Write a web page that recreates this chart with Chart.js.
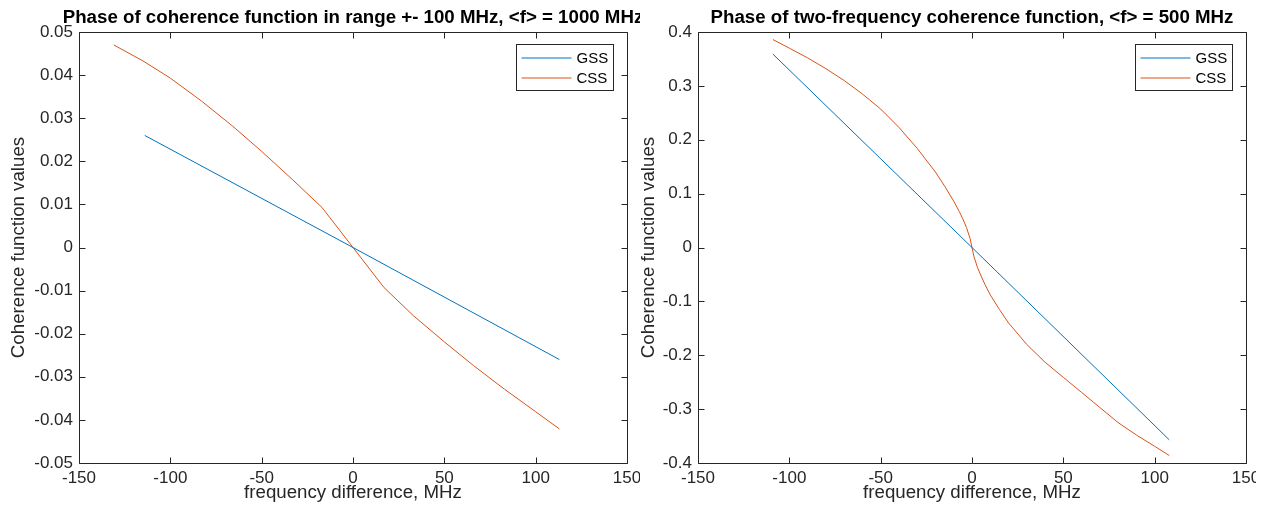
<!DOCTYPE html>
<html>
<head>
<meta charset="utf-8">
<script src="https://cdn.jsdelivr.net/npm/chart.js@4.4.1/dist/chart.umd.min.js"></script>
<style>
  html, body { margin: 0; padding: 0; background: #fff; }
  body { width: 1273px; height: 517px; position: relative; overflow: hidden; }
  canvas { position: absolute; top: 0; }
  #myChart1 { left: 0; }
  #myChart2 { left: 630px; }
</style>
</head>
<body>
<canvas id="myChart1" width="640" height="517"></canvas>
<canvas id="myChart2" width="626" height="517"></canvas>
<script>
//---- Datos de la grafica izquierda (rango +- 100 MHz, <f> = 1000 MHz) ----
const freqGss1 = [-114, 0, 113];
const phaseGss1 = [0.026, 0, -0.026];
const freqCss1 = [-131, -115, -100, -83, -66, -50, -33, -17, 0, 17, 33, 50, 66, 83, 100, 113];
const phaseCss1 = [0.047, 0.0433, 0.0393, 0.034, 0.0282, 0.0223, 0.0157, 0.0093, 0,
  -0.0093, -0.0158, -0.0219, -0.0274, -0.0329, -0.0381, -0.0421];

//---- Datos de la grafica derecha (<f> = 500 MHz) ----
const freqGss2 = [-109, 0, 108];
const phaseGss2 = [0.359, 0, -0.357];
const freqCss2 = [-109, -100, -90, -80, -70, -60, -50, -40, -30, -20, -15, -10, -7, -5, -3, -1, 0,
  1, 3, 5, 7, 10, 15, 20, 30, 40, 50, 60, 70, 80, 90, 100, 108];
const phaseCss2 = [0.386, 0.37, 0.352, 0.332, 0.31, 0.285, 0.257, 0.223, 0.184, 0.14, 0.114, 0.086, 0.067, 0.053, 0.037, 0.016, 0,
  -0.016, -0.037, -0.053, -0.068, -0.088, -0.115, -0.14, -0.18, -0.213, -0.241, -0.269, -0.297, -0.325, -0.348, -0.369, -0.386];

const seriesNames = ["GSS", "CSS"];
const xTicks = { min: -150, max: 150, step: 50 };

const axisColor = "#262626";
const gssColor = "#0072BD";
const cssColor = "#D95319";
const fontFamily = "'Liberation Sans', Arial, Helvetica, sans-serif";

// pares {x, y} para el eje lineal
const toPoints = (xs, ys) => xs.map((x, i) => ({ x: x, y: ys[i] }));

//---- Caja, ticks hacia adentro, leyenda y titulo al estilo MATLAB ----
const matlabAxes = {
  id: "matlabAxes",
  afterDatasetsDraw(chart, args, opts) {
    const { ctx, chartArea: a, scales } = chart;
    const left = Math.floor(a.left) + 0.5;
    const top = Math.floor(a.top) + 0.5;
    const right = Math.floor(a.right) + 0.5;
    const bottom = Math.floor(a.bottom) + 0.5;
    const tl = 6;

    ctx.save();
    ctx.strokeStyle = axisColor;
    ctx.lineWidth = 1;
    ctx.beginPath();
    ctx.rect(left, top, right - left, bottom - top);
    scales.x.ticks.forEach((t) => {
      const px = Math.round(scales.x.getPixelForValue(t.value)) + 0.5;
      ctx.moveTo(px, bottom); ctx.lineTo(px, bottom - tl);
      ctx.moveTo(px, top); ctx.lineTo(px, top + tl);
    });
    scales.y.ticks.forEach((t) => {
      const py = Math.round(scales.y.getPixelForValue(t.value)) + 0.5;
      ctx.moveTo(left, py); ctx.lineTo(left + tl, py);
      ctx.moveTo(right, py); ctx.lineTo(right - tl, py);
    });
    ctx.stroke();

    // leyenda
    const lw = 97, lh = 46;
    const lx = Math.floor(a.right) - 14 - lw + 0.5;
    const ly = Math.floor(a.top) + 12 + 0.5;
    ctx.fillStyle = "#fff";
    ctx.fillRect(lx, ly, lw, lh);
    ctx.strokeRect(lx, ly, lw, lh);
    ctx.font = "15px " + fontFamily;
    ctx.textBaseline = "middle";
    ctx.textAlign = "left";
    chart.data.datasets.forEach((ds, i) => {
      const yy = ly + 13.5 + i * 20;
      ctx.strokeStyle = ds.borderColor;
      ctx.beginPath();
      ctx.moveTo(lx + 5, yy);
      ctx.lineTo(lx + 55, yy);
      ctx.stroke();
      ctx.fillStyle = "#000";
      ctx.fillText(ds.label, lx + 60, yy + 1);
    });

    // titulo centrado sobre los ejes
    ctx.font = "bold 18.7px " + fontFamily;
    ctx.fillStyle = "#000";
    ctx.textAlign = "center";
    ctx.textBaseline = "alphabetic";
    ctx.fillText(opts.text, (a.left + a.right) / 2, a.top - 9);
    ctx.restore();
  },
};

//---- Generamos cada grafico ----
const makeGraph = (canvas, cfg) => {
  return new Chart(canvas, {
    type: "line",
    data: {
      datasets: [
        {
          label: seriesNames[0],
          data: toPoints(cfg.gssX, cfg.gssY),
          borderColor: gssColor,
          borderWidth: 1,
          pointRadius: 0,
          tension: 0,
        },
        {
          label: seriesNames[1],
          data: toPoints(cfg.cssX, cfg.cssY),
          borderColor: cssColor,
          borderWidth: 1,
          pointRadius: 0,
          tension: 0,
        },
      ],
    },
    options: {
      responsive: false,
      animation: false,
      layout: { padding: { left: 0, right: cfg.padRight, top: 32, bottom: 0 } },
      scales: {
        x: {
          type: "linear",
          min: xTicks.min,
          max: xTicks.max,
          ticks: {
            stepSize: xTicks.step,
            color: axisColor,
            font: { family: fontFamily, size: 17 },
            padding: 5,
            maxRotation: 0,
            autoSkip: false,
          },
          grid: { display: false, drawTicks: false },
          border: { display: false },
          title: {
            display: true,
            text: "frequency difference, MHz",
            color: axisColor,
            font: { family: fontFamily, size: 18.7 },
            padding: { top: 0, bottom: 13 },
          },
          afterFit: (scale) => {
            scale.height = 54;
            scale.paddingLeft = 0;
            scale.paddingRight = 0;
          },
        },
        y: {
          min: cfg.yMin,
          max: cfg.yMax,
          ticks: {
            stepSize: cfg.yStep,
            color: axisColor,
            font: { family: fontFamily, size: 17 },
            padding: 6,
            autoSkip: false,
            callback: (v) => String(+v.toFixed(cfg.decimals)),
          },
          grid: { display: false, drawTicks: false },
          border: { display: false },
          title: {
            display: true,
            text: "Coherence function values",
            color: axisColor,
            font: { family: fontFamily, size: 18.7 },
            padding: { top: 8, bottom: 0 },
          },
          afterFit: (scale) => {
            scale.width = cfg.yWidth;
            scale.paddingTop = 0;
            scale.paddingBottom = 0;
          },
        },
      },
      plugins: {
        legend: { display: false },
        tooltip: { enabled: false },
        matlabAxes: { text: cfg.title },
      },
    },
    plugins: [matlabAxes],
  });
};

const graph1 = makeGraph(document.querySelector("#myChart1"), {
  gssX: freqGss1, gssY: phaseGss1, cssX: freqCss1, cssY: phaseCss1,
  yMin: -0.05, yMax: 0.05, yStep: 0.01, decimals: 2,
  yWidth: 79, padRight: 13,
  title: "Phase of coherence function in range +- 100 MHz, <f> = 1000 MHz",
});

const graph2 = makeGraph(document.querySelector("#myChart2"), {
  gssX: freqGss2, gssY: phaseGss2, cssX: freqCss2, cssY: phaseCss2,
  yMin: -0.4, yMax: 0.4, yStep: 0.1, decimals: 1,
  yWidth: 68, padRight: 10,
  title: "Phase of two-frequency coherence function, <f> = 500 MHz",
});
</script>
</body>
</html>
